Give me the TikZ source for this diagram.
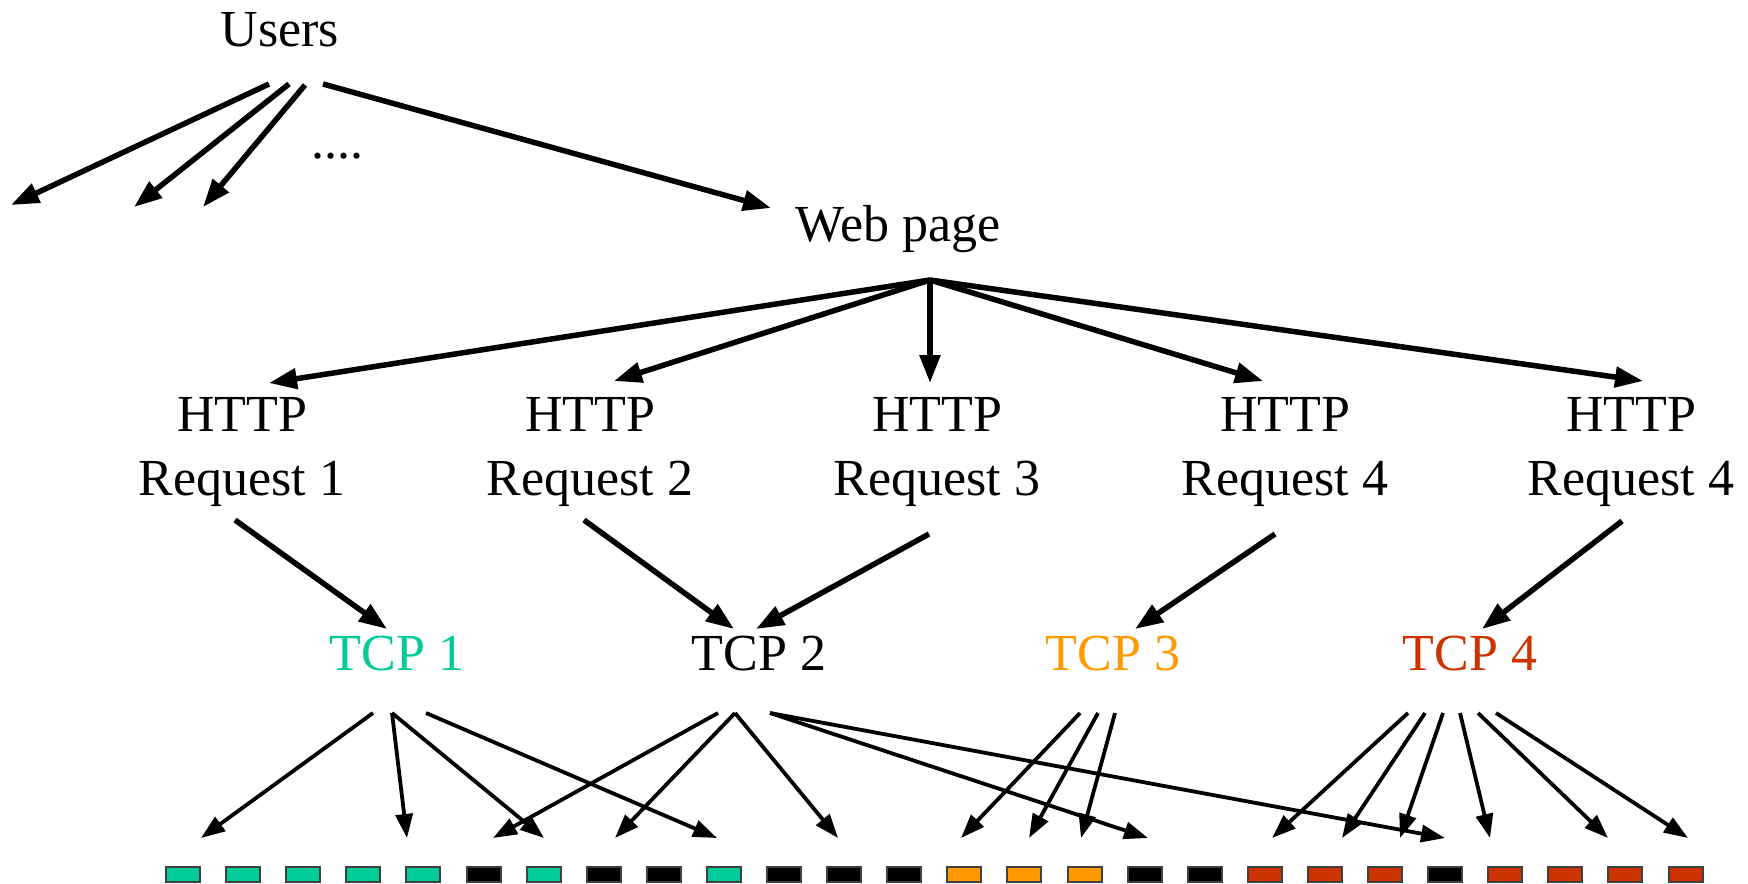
\documentclass[tikz,border=0pt]{standalone}
\usepackage{fontspec}
\setmainfont{Liberation Serif}
\usetikzlibrary{arrows.meta}
\definecolor{tealc}{HTML}{00CC99}
\definecolor{orangec}{HTML}{FF9900}
\definecolor{redc}{HTML}{CC3300}
\begin{document}
\begin{tikzpicture}[x=0.5pt,y=-0.5pt,
  lbl/.style={font=\fontsize{26}{32}\selectfont, inner sep=0pt},
  bigarrow/.style={line width=2.75pt, -{Triangle[length=14pt,width=10pt]}},
  smallarrow/.style={line width=1.9pt, -{Triangle[length=12pt,width=8.5pt]}},
  pkt/.style={minimum width=17pt, minimum height=7.5pt, inner sep=0pt, line width=1pt, draw=black!75, anchor=north west},
]
\useasboundingbox (0,0) rectangle (1748,883);

% texts
\node[lbl, anchor=base] (users) at (280,47) {Users};
\node[lbl, anchor=base] (dots) at (337,158) {....};
\node[lbl, anchor=base] (web) at (898,241) {Web page};
\node[lbl, align=center, anchor=base] (h1) at (242,495) {HTTP\\Request 1};
\node[lbl, align=center, anchor=base] (h2) at (590,495) {HTTP\\Request 2};
\node[lbl, align=center, anchor=base] (h3) at (937,495) {HTTP\\Request 3};
\node[lbl, align=center, anchor=base] (h4) at (1285,495) {HTTP\\Request 4};
\node[lbl, align=center, anchor=base] (h5) at (1631,495) {HTTP\\Request 4};
\node[lbl, anchor=base, text=tealc] (tcp1) at (397,670) {TCP 1};
\node[lbl, anchor=base] (tcp2) at (759,670) {TCP 2};
\node[lbl, anchor=base, text=orangec] (tcp3) at (1113,670) {TCP 3};
\node[lbl, anchor=base, text=redc] (tcp4) at (1470,670) {TCP 4};

% packets
\foreach \i/\c in {0/tealc,1/tealc,2/tealc,3/tealc,4/tealc,5/black,6/tealc,7/black,8/black,9/tealc,10/black,11/black,12/black,13/orangec,14/orangec,15/orangec,16/black,17/black,18/redc,19/redc,20/redc,21/black,22/redc,23/redc,24/redc,25/redc}
  \node[pkt, fill=\c] (p\i) at ({165+60.1*\i},866) {};

% users arrows
\coordinate (us1) at (269,84);  \coordinate (ut1) at (11,205);
\coordinate (us2) at (289,84);  \coordinate (ut2) at (134,207);
\coordinate (us3) at (305,85);  \coordinate (ut3) at (203,207);
\coordinate (us4) at (323,84);  \coordinate (ut4) at (771,208);
\foreach \k in {1,...,4} \draw[bigarrow] (us\k) -- (ut\k);

% web page arrows
\coordinate (ws) at (930,280);
\coordinate (wt1) at (269,383);
\coordinate (wt2) at (614,381);
\coordinate (wt3) at (930,383);
\coordinate (wt4) at (1263,381);
\coordinate (wt5) at (1643,381);
\foreach \k in {1,...,5} \draw[bigarrow] (ws) -- (wt\k);

% http -> tcp
\coordinate (hs1) at (235,520);  \coordinate (ht1) at (387,629);
\coordinate (hs2) at (584,520);  \coordinate (ht2) at (734,629);
\coordinate (hs3) at (929,534);  \coordinate (ht3) at (756,629);
\coordinate (hs4) at (1275,534); \coordinate (ht4) at (1135,629);
\coordinate (hs5) at (1622,521); \coordinate (ht5) at (1482,629);
\foreach \k in {1,...,5} \draw[bigarrow] (hs\k) -- (ht\k);

% tcp -> packets
\coordinate (a1) at (373,713); \coordinate (a2) at (392,713); \coordinate (a3) at (426,713);
\coordinate (b1) at (718,713); \coordinate (b2) at (735,713); \coordinate (b3) at (770,713);
\coordinate (c1) at (1080,713); \coordinate (c2) at (1098,713); \coordinate (c3) at (1115,713);
\coordinate (d1) at (1408,713); \coordinate (d2) at (1425,713); \coordinate (d3) at (1443,713);
\coordinate (d4) at (1460,713); \coordinate (d5) at (1478,713); \coordinate (d6) at (1496,713);

\foreach \s/\x in {a1/201,a2/407,a3/717,a2/544,
                   b1/493,b2/615,b2/838,b3/1148,b3/1445,
                   c1/961,c2/1029,c3/1081,
                   d1/1272,d2/1342,d3/1400,d4/1490,d5/1608,d6/1688}
  \draw[smallarrow] (\s) -- (\x,838);
\end{tikzpicture}
\end{document}
